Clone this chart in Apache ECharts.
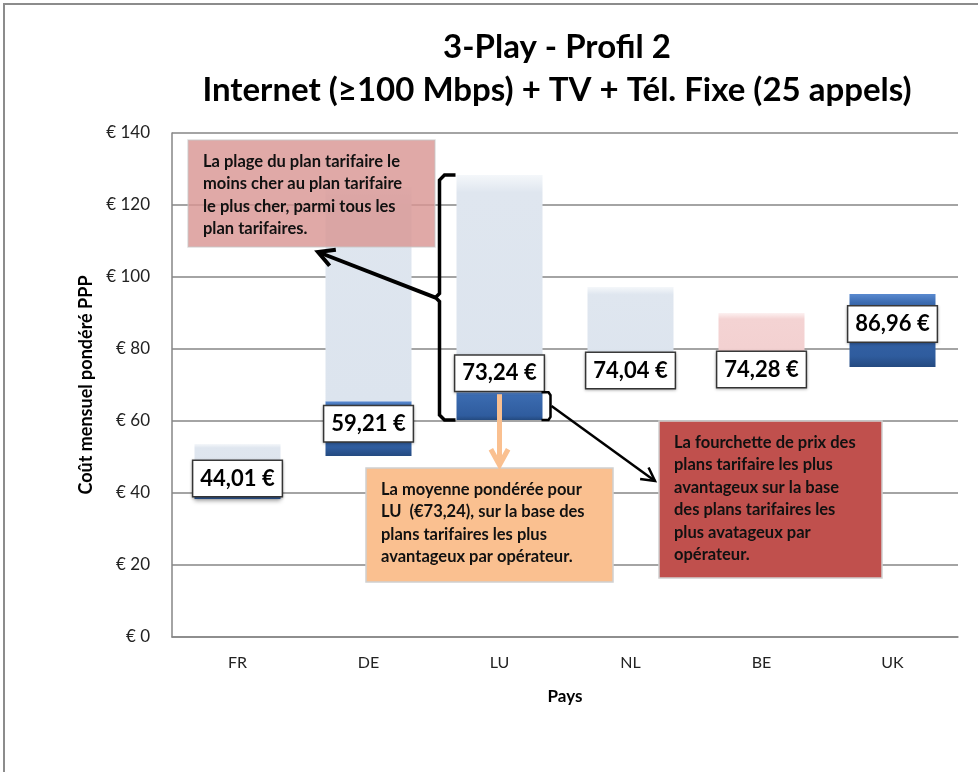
<!DOCTYPE html>
<html>
<head>
<meta charset="utf-8">
<script src="https://cdn.jsdelivr.net/npm/echarts@6/dist/echarts.min.js"></script>
<style>
  html, body { margin: 0; padding: 0; background: #fff; }
  #main { width: 978px; height: 772px; }
</style>
</head>
<body>
<div id="main"></div>
<script>
  // pays
  var pays = ['FR', 'DE', 'LU', 'NL', 'BE', 'UK'];
  // plan le moins cher (début de la fourchette)
  var bestMin = [38.3, 50.3, 60.3, 70.0, 71.5, 75.0];
  // haut de la fourchette des plans les plus avantageux
  var bestMax = [40.5, 65.5, 68.0, 71.0, 73.0, 95.3];
  // plan le plus cher
  var allMax = [53.6, 125.0, 128.3, 97.2, 90.0, 95.3];
  // moyenne pondérée
  var moyenne = [44.01, 59.21, 73.24, 74.04, 74.28, 86.96];
  var yTicks = [0, 20, 40, 60, 80, 100, 120, 140];

  var FONT = 'Lato, "Open Sans", sans-serif';

  var myChart = echarts.init(document.getElementById('main'));

  var darkBar = new echarts.graphic.LinearGradient(0, 0, 0, 1, [
    { offset: 0, color: '#5a8ad0' },
    { offset: 0.12, color: '#3b6bb0' },
    { offset: 0.85, color: '#2f5c9e' },
    { offset: 1, color: '#244a80' }
  ]);
  var lightBar = new echarts.graphic.LinearGradient(0, 0, 0, 1, [
    { offset: 0, color: '#f4f7fa' },
    { offset: 0.08, color: '#dfe6ef' },
    { offset: 1, color: '#dce4ee' }
  ]);
  var pinkBar = new echarts.graphic.LinearGradient(0, 0, 0, 1, [
    { offset: 0, color: '#fdf1f1' },
    { offset: 0.1, color: '#f4d3d3' },
    { offset: 1, color: '#f2cfcf' }
  ]);

  var restData = allMax.map(function (v, i) {
    var item = { value: +(v - bestMax[i]).toFixed(2) };
    if (pays[i] === 'BE') item.itemStyle = { color: pinkBar };
    return item;
  });

  myChart.setOption({
    animation: false,
    grid: { left: 172, right: 20, top: 133, bottom: 135 },
    xAxis: {
      type: 'category',
      data: pays,
      name: 'Pays',
      nameLocation: 'middle',
      nameGap: 51,
      nameTextStyle: { fontFamily: FONT, fontWeight: 'bold', fontSize: 17, color: '#000' },
      axisLine: { lineStyle: { color: '#868686', width: 1.5 } },
      axisTick: { show: false },
      axisLabel: { fontFamily: FONT, fontSize: 16, color: '#222', margin: 18 }
    },
    yAxis: {
      type: 'value',
      min: 0,
      max: 140,
      interval: 20,
      name: 'Coût mensuel pondéré PPP',
      nameLocation: 'middle',
      nameGap: 76,
      nameTextStyle: { fontFamily: FONT, fontWeight: 'bold', fontSize: 18, color: '#000' },
      axisLine: { show: true, lineStyle: { color: '#868686', width: 1.5 } },
      axisTick: { show: false },
      splitLine: { lineStyle: { color: '#868686', width: 1.5 } },
      axisLabel: {
        fontFamily: FONT, fontSize: 17, color: '#222', margin: 22,
        formatter: function (v) { return yTicks.indexOf(v) >= 0 ? '€ ' + v : ''; }
      }
    },
    series: [
      {
        name: 'base', type: 'bar', stack: 'r', barWidth: 86,
        data: bestMin, itemStyle: { color: 'transparent' }, silent: true
      },
      {
        name: 'plans avantageux', type: 'bar', stack: 'r',
        data: bestMax.map(function (v, i) { return +(v - bestMin[i]).toFixed(2); }),
        itemStyle: { color: darkBar, shadowColor: 'rgba(0,0,0,0.35)', shadowBlur: 4, shadowOffsetY: 2 }
      },
      {
        name: 'tous les plans', type: 'bar', stack: 'r',
        data: restData,
        itemStyle: { color: lightBar }
      },
      {
        name: 'moyenne', type: 'scatter', symbolSize: 1, z: 5,
        itemStyle: { color: 'transparent', opacity: 1 },
        data: moyenne,
        label: {
          show: true, position: 'inside',
          formatter: function (p) { return p.value.toFixed(2).replace('.', ',') + ' €'; },
          fontFamily: FONT, fontWeight: 'bold', fontSize: 22, color: '#000', opacity: 1,
          backgroundColor: '#fff', borderColor: '#3a3a3a', borderWidth: 1.5,
          padding: [7, 7, 6, 7],
          shadowColor: 'rgba(0,0,0,0.25)', shadowBlur: 3, shadowOffsetY: 1
        }
      }
    ],
    title: [
      {
        text: '3-Play - Profil 2', left: 552, top: 26, textAlign: 'center',
        textStyle: { fontFamily: FONT, fontWeight: 'bold', fontSize: 33, color: '#000' }
      },
      {
        text: 'Internet (≥100 Mbps) + TV + Tél. Fixe (25 appels)', left: 552, top: 69, textAlign: 'center',
        textStyle: { fontFamily: FONT, fontWeight: 'bold', fontSize: 33, color: '#000' }
      }
    ]
  });

  function px(i, v) { return myChart.convertToPixel({ gridIndex: 0 }, [i, v]); }

  function arrow(x1, y1, x2, y2, color, w, head) {
    var a = Math.atan2(y2 - y1, x2 - x1), s = 0.5;
    return [
      { type: 'polyline', z: 20, shape: { points: [[x1, y1], [x2, y2]] }, style: { stroke: color, lineWidth: w, fill: null } },
      {
        type: 'polyline', z: 20,
        shape: { points: [
          [x2 - head * Math.cos(a - s), y2 - head * Math.sin(a - s)],
          [x2, y2],
          [x2 - head * Math.cos(a + s), y2 - head * Math.sin(a + s)]
        ] },
        style: { stroke: color, lineWidth: w, fill: null, lineJoin: 'miter' }
      }
    ];
  }

  function textBox(x, y, w, h, fill, lines, stroke) {
    return [
      {
        type: 'rect', z: 15, shape: { x: x, y: y, width: w, height: h },
        style: { fill: fill, stroke: stroke || '#d0d0d0', lineWidth: 1.5 }
      },
      {
        type: 'text', z: 16, x: x + 15, y: y + 10,
        style: { text: lines.join('\n'), fill: '#111', font: 'bold 16.5px ' + FONT, lineHeight: 22.5 }
      }
    ];
  }

  (function () {
    var lu = pays.indexOf('LU');
    var pTop = px(lu, allMax[lu]), pBot = px(lu, bestMin[lu]), pBest = px(lu, bestMax[lu]);
    var bx = pTop[0] - 60; // crochet à gauche de LU
    var midY = (pTop[1] + pBot[1]) / 2;
    var rx = pTop[0] + 46;

    var g = [
      // cadre
      { type: 'rect', z: 0, shape: { x: 4, y: 4, width: 990, height: 790 }, style: { fill: null, stroke: '#8c8c8c', lineWidth: 2 } },
      // grand crochet
      {
        type: 'polyline', z: 20,
        shape: { points: [[bx + 16, pTop[1]], [bx + 5, pTop[1]], [bx, pTop[1] + 5], [bx, midY - 4], [bx - 4, midY], [bx, midY + 4], [bx, pBot[1] - 5], [bx + 5, pBot[1]], [bx + 16, pBot[1]]] },
        style: { stroke: '#000', lineWidth: 3.5, fill: null }
      },
      // petit crochet
      {
        type: 'polyline', z: 20,
        shape: { points: [[rx - 4, pBest[1]], [rx + 3, pBest[1]], [rx + 5, pBest[1] + 3], [rx + 5, pBot[1] - 3], [rx + 3, pBot[1]], [rx - 4, pBot[1]]] },
        style: { stroke: '#000', lineWidth: 2.5, fill: null }
      }
    ];
    g = g.concat(textBox(188, 140, 247, 107, 'rgba(217,150,148,0.82)', [
      'La plage du plan tarifaire le',
      'moins cher au plan tarifaire',
      'le plus cher, parmi tous les',
      'plan tarifaires.'
    ], 'rgba(200,200,200,0.6)'));
    g = g.concat(textBox(366, 468, 247, 114, '#fac090', [
      'La moyenne pondérée pour',
      'LU  (€73,24), sur la base des',
      'plans tarifaires les plus',
      'avantageux par opérateur.'
    ]));
    g = g.concat(textBox(659, 421, 223, 157, '#c0504d', [
      'La fourchette de prix des',
      'plans tarifaire les plus',
      'avantageux sur la base',
      'des plans tarifaires les',
      'plus avatageux par',
      'opérateur.'
    ]));
    g = g.concat(arrow(bx - 4, midY, 318, 252, '#000', 4, 18));
    g = g.concat(arrow(rx + 6, (pBest[1] + pBot[1]) / 2, 655, 481, '#000', 2.5, 15));
    g = g.concat(arrow(pTop[0], pBest[1] + 2, pTop[0], 465, '#fac090', 5, 18));

    myChart.setOption({ graphic: g });
  })();
</script>
</body>
</html>
